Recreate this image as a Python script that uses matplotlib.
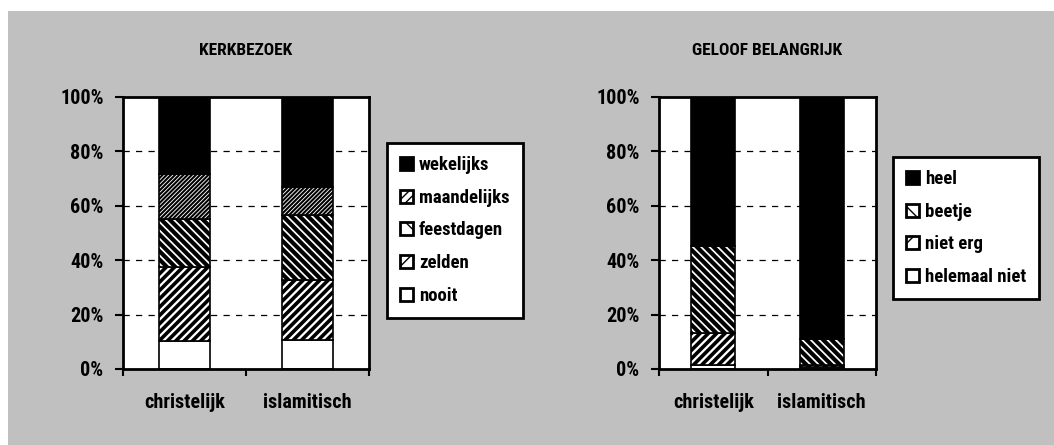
import matplotlib
matplotlib.use("Agg")
import matplotlib.pyplot as plt
from matplotlib import font_manager
from matplotlib.patches import Rectangle
import numpy as np

# --- data ---------------------------------------------------------------
groups = ["christelijk", "islamitisch"]

kerk_labels = ["nooit", "zelden", "feestdagen", "maandelijks", "wekelijks"]
kerk_nooit = [10.3, 10.6]
kerk_zelden = [27.2, 22.2]
kerk_feestdagen = [17.8, 23.9]
kerk_maandelijks = [16.4, 10.1]
kerk_wekelijks = [28.3, 33.2]

geloof_labels = ["helemaal niet", "niet erg", "beetje", "heel"]
geloof_helemaal_niet = [1.4, 0.6]
geloof_niet_erg = [11.9, 0.7]
geloof_beetje = [31.9, 9.6]
geloof_heel = [54.8, 89.1]

yticks = [0, 20, 40, 60, 80, 100]

# --- style --------------------------------------------------------------
names = {f.name for f in font_manager.fontManager.ttflist}
family = "DejaVu Sans"
for cand in ["Liberation Sans Narrow", "Roboto Condensed", "Open Sans Condensed",
             "Roboto", "Liberation Sans"]:
    if cand in names:
        family = cand
        break
plt.rcParams["font.family"] = [family, "DejaVu Sans"]
plt.rcParams["font.weight"] = "bold"

GRAY = "#c0c0c0"

# (hatch, facecolor, hatch line width)
kerk_styles = [
    ("", "white", 1.0),
    ("////", "white", 2.6),
    ("\\\\\\\\", "white", 3.0),
    ("////////", "white", 1.5),
    ("", "black", 1.0),
]
geloof_styles = [
    ("", "white", 1.0),
    ("////", "white", 2.6),
    ("\\\\\\\\", "white", 3.0),
    ("", "black", 1.0),
]


def stacked(ax, series, labels, styles, width):
    x = np.arange(len(groups))
    bottom = np.zeros(len(groups))
    handles = []
    for vals, lab, (hatch, fc, hlw) in zip(series, labels, styles):
        with plt.rc_context({"hatch.linewidth": hlw, "hatch.color": "black"}):
            bars = ax.bar(x, vals, width, bottom=bottom, color=fc,
                          edgecolor="black", linewidth=1.2, hatch=hatch,
                          label=lab, zorder=3)
            for b in bars:
                if hasattr(b, "set_hatch_linewidth"):
                    b.set_hatch_linewidth(hlw)
            h = Rectangle((0, 0), 1, 1, facecolor=fc, edgecolor="black",
                          linewidth=2, hatch=hatch[:len(hatch) // 2])
            if hasattr(h, "set_hatch_linewidth"):
                h.set_hatch_linewidth(hlw * 1.3)
        handles.append(h)
        bottom += np.array(vals)
    return handles


def style_axes(ax, title):
    ax.set_xlim(-0.5, len(groups) - 0.5)
    ax.set_ylim(0, 100)
    ax.set_facecolor("white")
    ax.set_yticks(yticks)
    ax.set_yticklabels([f"{t}%" for t in yticks], fontsize=14.5, fontweight="bold")
    ax.set_xticks(range(len(groups)))
    ax.set_xticklabels(groups, fontsize=14.5, fontweight="bold")
    ax.set_xticks(np.arange(-0.5, len(groups), 1.0), minor=True)
    ax.tick_params(axis="x", which="major", length=0, pad=17)
    ax.tick_params(axis="x", which="minor", length=5, width=1.5, direction="out")
    ax.tick_params(axis="y", length=6, width=1.5, direction="out", pad=8)
    for s in ax.spines.values():
        s.set_linewidth(2)
        s.set_zorder(5)
    for t in yticks[1:-1]:
        ax.axhline(t, color="black", lw=0.9, ls=(0, (5, 5)), zorder=1)
    ax.set_title(title, fontsize=12.5, fontweight="heavy", pad=30)


fig = plt.figure(figsize=(10.54, 4.45), dpi=100)
fig.patch.set_facecolor("white")
fig.patches.append(Rectangle((8 / 1054, 0), 1 - 8 / 1054, 1 - 11 / 445,
                             transform=fig.transFigure, facecolor=GRAY,
                             edgecolor="none", zorder=-10))

ax1 = fig.add_axes([123 / 1054, 76 / 445, 246 / 1054, 272 / 445])
ax2 = fig.add_axes([659 / 1054, 76 / 445, 217 / 1054, 272 / 445])

h1 = stacked(ax1, [kerk_nooit, kerk_zelden, kerk_feestdagen, kerk_maandelijks,
                   kerk_wekelijks], kerk_labels, kerk_styles, 0.41)
h2 = stacked(ax2, [geloof_helemaal_niet, geloof_niet_erg, geloof_beetje,
                   geloof_heel], geloof_labels, geloof_styles, 0.41)

style_axes(ax1, "KERKBEZOEK")
style_axes(ax2, "GELOOF BELANGRIJK")

leg_kw = dict(frameon=True, fancybox=False, edgecolor="black", facecolor="white",
              framealpha=1, handlelength=0.7, handleheight=0.7, handletextpad=0.3,
              labelspacing=0.78, borderpad=0.7, borderaxespad=0,
              prop={"size": 13.5, "weight": "bold"})

l1 = fig.legend(h1[::-1], kerk_labels[::-1], loc="upper left",
                bbox_to_anchor=(387 / 1054, 1 - 143 / 445), **leg_kw)
l2 = fig.legend(h2[::-1], geloof_labels[::-1], loc="upper left",
                bbox_to_anchor=(893 / 1054, 1 - 157 / 445), **leg_kw)
for l in (l1, l2):
    l.get_frame().set_linewidth(2)

fig.savefig("out.png", dpi=100, facecolor=fig.get_facecolor())
